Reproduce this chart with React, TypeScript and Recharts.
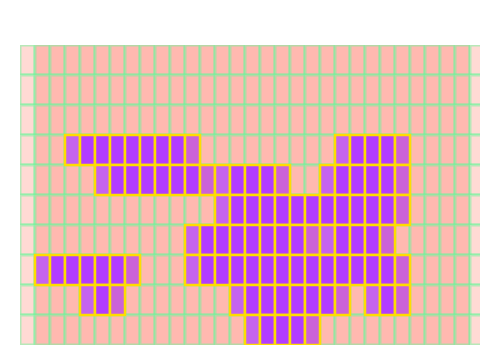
import { ScatterChart, Scatter, XAxis, YAxis } from 'recharts';

// grid size
const columnCount = 31;
const rowCount = 10;

// purple runs per row: [row, firstColumn, lastColumn]
const runs: [number, number, number][] = [
  [3, 3, 11], [3, 21, 25],
  [4, 5, 12], [4, 13, 17], [4, 20, 25],
  [5, 13, 25],
  [6, 11, 19], [6, 20, 24],
  [7, 1, 7], [7, 11, 25],
  [8, 4, 6], [8, 14, 21], [8, 23, 25],
  [9, 15, 19],
];

const columnTicks = Array.from({ length: columnCount }, (_, i) => i);
const rowTicks = Array.from({ length: rowCount + 1 }, (_, i) => i);

const backgroundCells = rowTicks.slice(0, rowCount).flatMap((r) =>
  columnTicks.map((c) => ({ x: c + 0.5, y: r + 0.5, edge: c === 0 || c === columnCount - 1 }))
);

const runCells = runs.flatMap(([r, a, b]) =>
  Array.from({ length: b - a + 1 }, (_, i) => ({
    x: a + i + 0.5,
    y: r + 0.5,
    kind: i === 0 ? 'first' : a + i === b ? 'last' : 'mid',
  }))
);

const CELL_W = 15;
const CELL_H = 30;

const purple: Record<string, string> = { first: '#c563ee', mid: '#b23cff', last: '#cb62d8' };

const BgCell = (props: any) => {
  const { cx, cy, payload } = props;
  return (
    <rect
      x={cx - CELL_W / 2}
      y={cy - CELL_H / 2}
      width={CELL_W}
      height={CELL_H}
      fill={payload.edge ? '#ffdad4' : '#ffb9b0'}
      stroke="#6ff59c"
      strokeOpacity={0.5}
      strokeWidth={3}
    />
  );
};

const RunCell = (props: any) => {
  const { cx, cy, payload } = props;
  return (
    <rect
      x={cx - CELL_W / 2}
      y={cy - CELL_H / 2}
      width={CELL_W}
      height={CELL_H}
      fill={purple[payload.kind]}
      stroke="#ffdc00"
      strokeWidth={2.5}
    />
  );
};

export default function App() {
  return (
    <div style={{ position: 'absolute', left: 0, top: 0, background: '#fff' }}>
      <ScatterChart width={480} height={360} margin={{ top: 45, right: 0, left: 20, bottom: 15 }}>
        <XAxis
          type="number"
          dataKey="x"
          domain={[0, 460 / CELL_W]}
          ticks={columnTicks}
          allowDataOverflow
          hide
        />
        <YAxis
          type="number"
          dataKey="y"
          domain={[0, rowCount]}
          ticks={rowTicks}
          reversed
          allowDataOverflow
          hide
        />
        <Scatter data={backgroundCells} shape={<BgCell />} isAnimationActive={false} />
        <Scatter data={runCells} shape={<RunCell />} isAnimationActive={false} />
      </ScatterChart>
    </div>
  );
}
